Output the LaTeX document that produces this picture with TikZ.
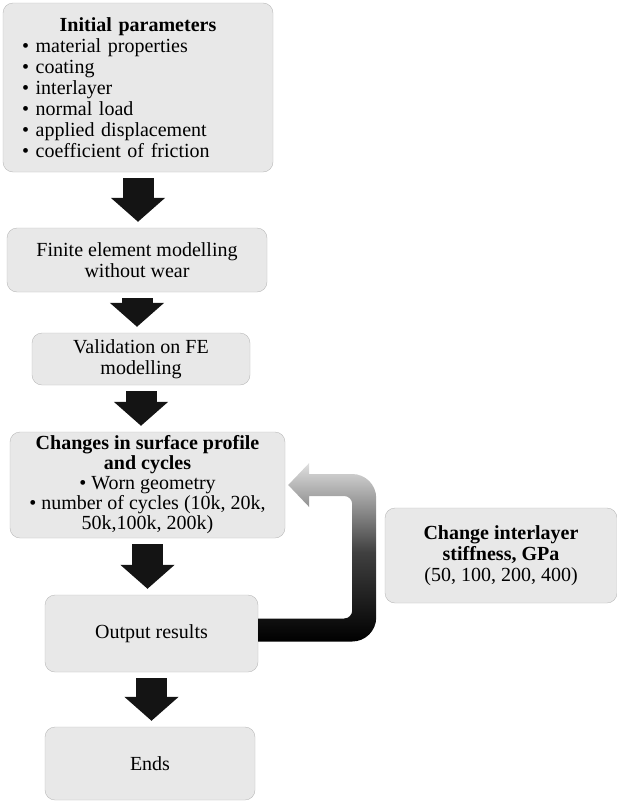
\documentclass[tikz,border=0pt]{standalone}
\usepackage{fontspec}
\setmainfont{Liberation Serif}
\usetikzlibrary{arrows.meta,calc}

\begin{document}
\begin{tikzpicture}[x=1pt, y=-1pt,
  box/.style={draw=gray!55, fill=gray!18, rounded corners=10pt, align=center, inner sep=2pt, font=\fontsize{20}{21}\selectfont},
  blk/.style={line width=31pt, draw=black!92, -{Triangle[width=53pt,length=24pt]}, shorten <=6pt, shorten >=6pt},
  uturn/.style={top color=gray!25, bottom color=black, middle color=black!75}
]
  \useasboundingbox (0,0) rectangle (617,803);

  \node[box, minimum width=270pt, minimum height=169pt, text width=232pt, align=left] (init) at (138,87.5)
    {{\centering\bfseries Initial parameters\par}
     • material properties\\• coating\\• interlayer\\• normal load\\• applied displacement\\• coefficient of friction};
  \node[box, minimum width=260pt, minimum height=64pt] (fe) at (137,260) {Finite element modelling\\without wear};
  \node[box, minimum width=218pt, minimum height=52pt] (val) at (141,359) {Validation on FE\\modelling};
  \node[box, minimum width=275pt, minimum height=106pt, font=\fontsize{20}{20}\selectfont] (chg) at (147.5,485)
    {\textbf{Changes in surface profile}\\\textbf{and cycles}\\• Worn geometry\\• number of cycles (10k, 20k,\\50k,100k, 200k)};
  \node[box, minimum width=213pt, minimum height=77pt] (out) at (151.5,633.5) {Output results};
  \node[box, minimum width=210pt, minimum height=73pt] (ends) at (150,763.5) {Ends};
  \node[box, minimum width=232pt, minimum height=95pt] (stiff) at (501,555.5)
    {\textbf{Change interlayer}\\\textbf{stiffness, GPa}\\(50, 100, 200, 400)};

  % block arrows down the main column
  \draw[blk] (init.south) -- (init.south |- fe.north);
  \draw[blk] (fe.south) -- (fe.south |- val.north);
  \draw[blk] (val.south) -- (val.south |- chg.north);
  \draw[blk] (chg.south) -- (chg.south |- out.north);
  \draw[blk] (out.south) -- (out.south |- ends.north);

  % loop back from the results
  \shade[uturn] let \p1=(out.east), \p2=(chg.east) in
    (\x1,\y1+15pt) [rounded corners=8pt] -- (\x1+94pt,\y1+15pt) -- (\x1+94pt,\y2-11pt)
    [sharp corners] -- (\x2+24pt,\y2-11pt) -- (\x2+24pt,\y2-22pt) -- (\x2+3pt,\y2)
    -- (\x2+24pt,\y2+22pt) -- (\x2+24pt,\y2+11pt)
    [rounded corners=24pt] -- (\x1+118pt,\y2+11pt) -- (\x1+118pt,\y1-8pt)
    [sharp corners] -- (\x1,\y1-8pt) -- cycle;
\end{tikzpicture}
\end{document}
